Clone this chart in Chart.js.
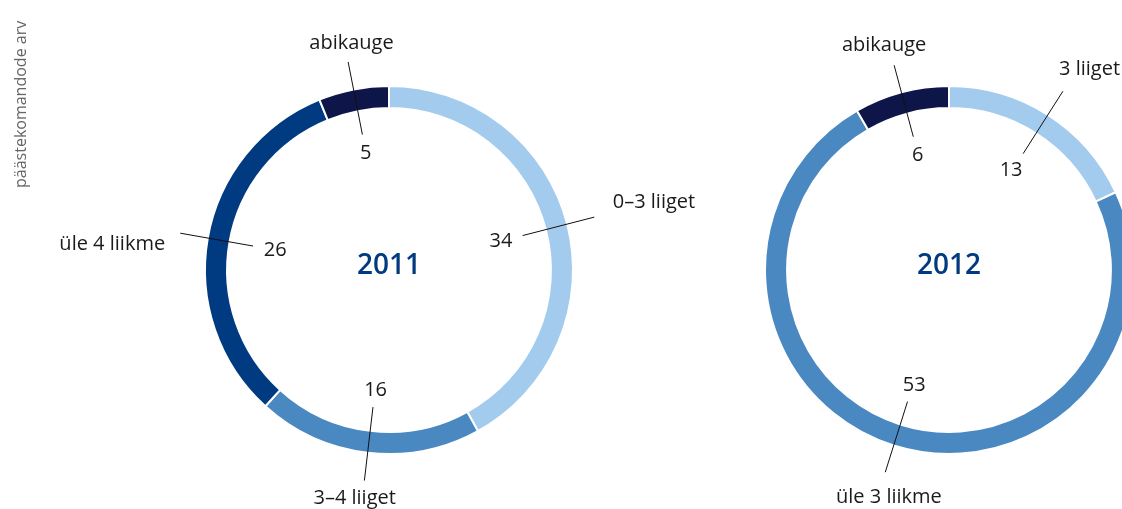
<!DOCTYPE html>
<html>
<head>
<meta charset="utf-8">
<script src="https://cdn.jsdelivr.net/npm/chart.js@4"></script>
<style>
  body { margin: 0; background: #fff; }
  #wrap { position: relative; width: 1122px; height: 509px; overflow: hidden; }
  #wrap canvas { position: absolute; left: 0; top: 0; }
  #ytitle {
    position: absolute; left: 9px; top: 188px;
    transform-origin: left top; transform: rotate(-90deg);
    font: 16px "Open Sans", sans-serif; color: #666; white-space: nowrap;
  }
</style>
</head>
<body>
<div id="wrap">
  <canvas id="chart2011" width="1122" height="509"></canvas>
  <canvas id="chart2012" width="1122" height="509"></canvas>
  <div id="ytitle">päästekomandode arv</div>
</div>
<script>
let years = ['2011', '2012'];
let labels2011 = ['0–3 liiget', '3–4 liiget', 'üle 4 liikme', 'abikauge'];
let values2011 = [34, 16, 26, 5];
let labels2012 = ['3 liiget', 'üle 3 liikme', 'abikauge'];
let values2012 = [13, 53, 6];

let light = '#a3cbed';
let medium = '#4a88c2';
let dark = '#003a80';
let navy = '#0e1548';

// text box placed so that it sits on the side of (px, py) pointed by (dx, dy)
function drawBoxed(ctx, text, px, py, dx, dy) {
  let m = ctx.measureText(text);
  let a = m.width / 2;
  let asc = m.actualBoundingBoxAscent;
  let desc = m.actualBoundingBoxDescent;
  let b = (asc + desc) / 2;
  let cx = px + dx * a;
  let cy = py + dy * b;
  ctx.textAlign = 'center';
  ctx.textBaseline = 'alphabetic';
  ctx.fillText(text, cx, cy + (asc - desc) / 2);
}

let ringLabels = {
  id: 'ringLabels',
  afterDatasetsDraw(chart, args, opts) {
    let ctx = chart.ctx;
    let meta = chart.getDatasetMeta(0);
    let cats = chart.data.labels;
    let vals = chart.data.datasets[0].data;
    ctx.save();
    meta.data.forEach(function (arc, i) {
      let mid = (arc.startAngle + arc.endAngle) / 2;
      let ux = Math.cos(mid);
      let uy = Math.sin(mid);
      let r1 = arc.outerRadius - 46;
      let r2 = arc.outerRadius + 28;
      let nudge = opts.nudge[i] || [0, 0];
      ctx.strokeStyle = '#111';
      ctx.lineWidth = 1;
      ctx.beginPath();
      ctx.moveTo(arc.x + ux * r1, arc.y + uy * r1);
      ctx.lineTo(arc.x + ux * r2, arc.y + uy * r2);
      ctx.stroke();
      ctx.fillStyle = '#1a1a1a';
      ctx.font = '20px "Open Sans"';
      drawBoxed(ctx, String(vals[i]), arc.x + ux * (r1 - 11), arc.y + uy * (r1 - 11), -ux, -uy);
      drawBoxed(ctx, cats[i], arc.x + ux * (r2 + 8) + nudge[0], arc.y + uy * (r2 + 8) + nudge[1], ux, uy);
    });
    let c = meta.data[0];
    ctx.fillStyle = dark;
    ctx.font = '600 28px "Open Sans"';
    drawBoxed(ctx, opts.title, c.x, c.y - 7, 0, 0);
    ctx.restore();
  }
};

function makeChart(id, labels, values, colors, year, padding, nudge) {
  return new Chart(document.getElementById(id).getContext('2d'), {
    type: 'doughnut',
    data: {
      labels: labels,
      datasets: [{
        data: values,
        backgroundColor: colors,
        borderColor: '#fff',
        borderWidth: 2,
        clip: false
      }]
    },
    options: {
      responsive: false,
      animation: false,
      radius: 184,
      cutout: '88%',
      layout: { padding: padding },
      plugins: {
        legend: { display: false },
        tooltip: { enabled: false },
        ringLabels: { title: year, nudge: nudge }
      }
    },
    plugins: [ringLabels]
  });
}

makeChart('chart2011', labels2011, values2011, [light, medium, dark, navy], years[0],
  { left: 0, right: 344, top: 31, bottom: 0 },
  [[12, -10], [-4, 1], [-8, 12], [13, 0]]);
makeChart('chart2012', labels2012, values2012, [light, medium, navy], years[1],
  { left: 776, right: 0, top: 31, bottom: 0 },
  [[6, -6], [22, 9], [3, -2]]);
</script>
</body>
</html>
